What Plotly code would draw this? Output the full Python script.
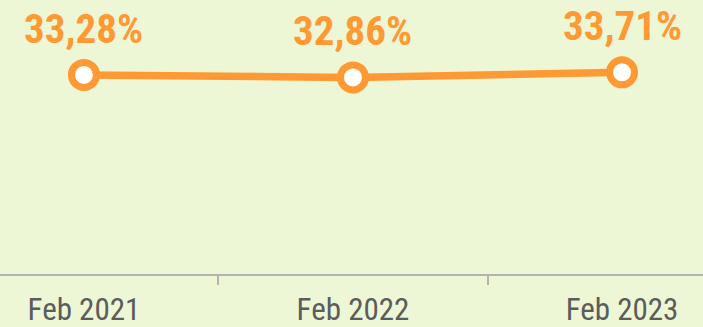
import plotly.graph_objects as go

# Share values by period
periods = ["Feb 2021", "Feb 2022", "Feb 2023"]
shares = [33.28, 32.86, 33.71]
labels = ["33,28%", "32,86%", "33,71%"]

ORANGE = "#ff9933"
BG = "#eef7d5"
FONT = "Roboto Condensed, Arial Narrow, sans-serif"

fig = go.Figure()
fig.add_trace(go.Scatter(
    x=periods,
    y=shares,
    mode="lines+markers",
    line=dict(color=ORANGE, width=7.5),
    marker=dict(size=25, color="white", line=dict(color=ORANGE, width=7)),
    hoverinfo="skip",
    cliponaxis=False,
))

for p, v, t in zip(periods, shares, labels):
    fig.add_annotation(
        x=p, y=v, text=t, showarrow=False,
        yanchor="bottom", yshift=20,
        font=dict(family=FONT, size=41, color=ORANGE, weight="bold"),
    )

fig.update_layout(
    width=703, height=327,
    margin=dict(l=0, r=0, t=0, b=53),
    paper_bgcolor=BG, plot_bgcolor=BG,
    showlegend=False,
    xaxis=dict(
        type="category",
        range=[-0.312, 2.301],
        showgrid=False, zeroline=False,
        showline=True, linecolor="#b3b3b3", linewidth=2,
        tickson="boundaries", ticks="outside", ticklen=9, tickwidth=2,
        tickcolor="#b3b3b3",
        ticklabelstandoff=7,
        tickfont=dict(family=FONT, size=31, color="#5c5c5c"),
    ),
    yaxis=dict(range=[0, 45.8], visible=False, showgrid=False, zeroline=False),
)

fig.write_html("out.html")
